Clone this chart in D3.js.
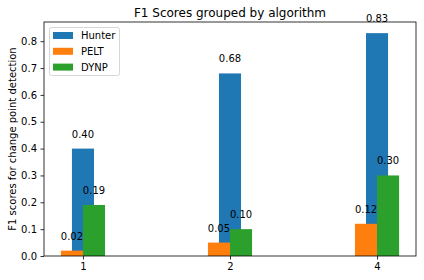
<!DOCTYPE html>
<html>
<head>
<meta charset="utf-8">
<script src="https://cdn.jsdelivr.net/npm/d3@7"></script>
<style>
  body { margin: 0; background: #fff; }
  svg { font-family: "DejaVu Sans", sans-serif; }
</style>
</head>
<body>
<div id="chart"></div>
<script>
// chart data
const categories = ["1", "2", "4"];
const seriesNames = ["Hunter", "PELT", "DYNP"];
const hunterValues = [0.40, 0.68, 0.83];
const peltValues = [0.02, 0.05, 0.12];
const dynpValues = [0.19, 0.10, 0.30];
const yTicks = [0.0, 0.1, 0.2, 0.3, 0.4, 0.5, 0.6, 0.7, 0.8];

const colors = ["#1f77b4", "#ff7f0e", "#2ca02c"];
const offsets = [0, -0.075, 0.075];
const barW = 0.15;

const W = 424, H = 280;
const margin = {top: 22, right: 8, bottom: 24, left: 44};

const svg = d3.select("#chart").append("svg")
  .attr("width", W)
  .attr("height", H);

const x = d3.scaleLinear()
  .domain([-0.265, 2.265])
  .range([margin.left, W - margin.right]);

const y = d3.scaleLinear()
  .domain([0, 0.8715])
  .range([H - margin.bottom, margin.top]);

const series = [hunterValues, peltValues, dynpValues];

series.forEach((vals, s) => {
  svg.append("g").selectAll("rect")
    .data(vals)
    .enter().append("rect")
    .attr("x", (d, i) => x(i + offsets[s] - barW / 2))
    .attr("width", (d, i) => x(i + offsets[s] + barW / 2) - x(i + offsets[s] - barW / 2))
    .attr("y", d => y(d))
    .attr("height", d => y(0) - y(d))
    .attr("fill", colors[s]);
});

// value labels on top
series.forEach((vals, s) => {
  svg.append("g").selectAll("text")
    .data(vals)
    .enter().append("text")
    .attr("x", (d, i) => x(i + offsets[s]))
    .attr("y", d => y(d) - 11)
    .attr("text-anchor", "middle")
    .attr("font-size", "10px")
    .attr("fill", "#000")
    .text(d => d.toFixed(2));
});

// axes
const xAxis = svg.append("g")
  .attr("transform", `translate(0,${H - margin.bottom})`)
  .call(d3.axisBottom(x).tickValues([0, 1, 2]).tickFormat(i => categories[i]).tickSize(3.5).tickPadding(3.5));

const yAxis = svg.append("g")
  .attr("transform", `translate(${margin.left},0)`)
  .call(d3.axisLeft(y).tickValues(yTicks).tickFormat(d3.format(".1f")).tickSize(3.5).tickPadding(3.5));

[xAxis, yAxis].forEach(a => {
  a.select(".domain").remove();
  a.selectAll("line").attr("stroke", "#000").attr("stroke-width", 0.8);
  a.selectAll("text").attr("font-size", "10px").attr("fill", "#000")
    .style("font-family", "DejaVu Sans, sans-serif");
});

// frame
svg.append("rect")
  .attr("x", margin.left)
  .attr("y", margin.top)
  .attr("width", W - margin.left - margin.right)
  .attr("height", H - margin.top - margin.bottom)
  .attr("fill", "none")
  .attr("stroke", "#000")
  .attr("stroke-width", 0.8);

// title
svg.append("text")
  .attr("x", (margin.left + W - margin.right) / 2)
  .attr("y", 17)
  .attr("text-anchor", "middle")
  .attr("font-size", "12px")
  .text("F1 Scores grouped by algorithm");

// y label
svg.append("text")
  .attr("transform", `translate(12,${(margin.top + H - margin.bottom) / 2}) rotate(-90)`)
  .attr("text-anchor", "middle")
  .attr("dominant-baseline", "central")
  .attr("font-size", "10px")
  .text("F1 scores for change point detection");

// legend
const legend = svg.append("g");
legend.append("rect")
  .attr("x", 49.5).attr("y", 27.5)
  .attr("width", 70).attr("height", 48)
  .attr("rx", 2)
  .attr("fill", "#fff").attr("fill-opacity", 0.8)
  .attr("stroke", "#ccc").attr("stroke-width", 0.8);

seriesNames.forEach((name, s) => {
  const cy = 35.5 + s * 15.8;
  legend.append("rect")
    .attr("x", 53).attr("y", cy - 3.5)
    .attr("width", 20).attr("height", 7)
    .attr("fill", colors[s]);
  legend.append("text")
    .attr("x", 81).attr("y", cy)
    .attr("dominant-baseline", "central")
    .attr("font-size", "10px")
    .text(name);
});
</script>
</body>
</html>
